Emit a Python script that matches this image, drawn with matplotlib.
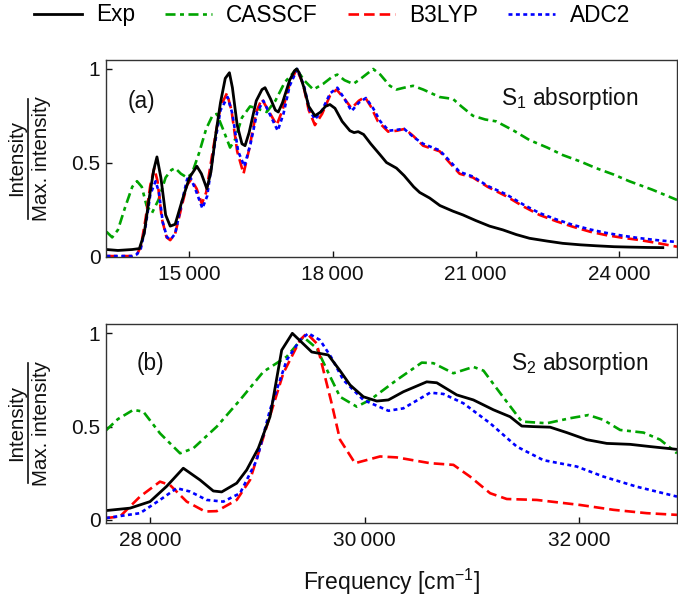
import matplotlib
matplotlib.use("Agg")
import matplotlib.pyplot as plt
from matplotlib.lines import Line2D

plt.rcParams['font.family'] = ['Liberation Sans', 'DejaVu Sans']
plt.rcParams['mathtext.fontset'] = 'custom'
plt.rcParams['mathtext.rm'] = 'Liberation Sans'
plt.rcParams['mathtext.it'] = 'Liberation Sans:italic'
plt.rcParams['mathtext.bf'] = 'Liberation Sans:bold'

# ---------------- data: panel (a) S1 absorption ----------------
a_exp_x = [13260, 13500, 13800, 13950, 14050, 14150, 14250, 14318, 14400, 14500, 14596, 14700,
           14850, 15000, 15155, 15250, 15364, 15450, 15550, 15650, 15750, 15837, 15900, 16000,
           16100, 16165, 16250, 16400, 16520, 16584, 16700, 16800, 16862, 16950, 17100, 17200,
           17247, 17300, 17400, 17500, 17630, 17750, 17850, 17944, 18050, 18200, 18363, 18450,
           18537, 18650, 18800, 19000, 19130, 19339, 19500, 19700, 19826, 20036, 20250, 20523,
           20732, 21000, 21291, 21569, 21850, 22128, 22500, 22825, 23200, 23523, 23900, 24220,
           24600, 24922]
a_exp_y = [0.035, 0.030, 0.035, 0.040, 0.12, 0.30, 0.46, 0.53, 0.42, 0.22, 0.16, 0.17,
           0.30, 0.42, 0.48, 0.44, 0.36, 0.45, 0.65, 0.82, 0.95, 0.98, 0.90, 0.70,
           0.60, 0.59, 0.66, 0.83, 0.89, 0.90, 0.84, 0.78, 0.77, 0.82, 0.94, 0.99,
           1.00, 0.98, 0.90, 0.80, 0.75, 0.77, 0.80, 0.81, 0.79, 0.72, 0.67, 0.66,
           0.665, 0.65, 0.60, 0.54, 0.50, 0.47, 0.43, 0.37, 0.34, 0.31, 0.27, 0.24,
           0.22, 0.19, 0.16, 0.14, 0.115, 0.095, 0.080, 0.068, 0.060, 0.055, 0.050, 0.048,
           0.046, 0.045]

a_cas_x = [13260, 13380, 13500, 13650, 13800, 13900, 14000, 14100, 14213, 14350, 14500, 14620,
           14701, 14820, 14946, 15050, 15200, 15350, 15480, 15573, 15700, 15851, 15950, 16100,
           16270, 16400, 16619, 16800, 17000, 17247, 17400, 17595, 17800, 18000, 18100, 18250,
           18433, 18600, 18851, 19000, 19200, 19339, 19500, 19687, 19900, 20245, 20523, 20700,
           20941, 21200, 21430, 21800, 22128, 22500, 22825, 23200, 23523, 23900, 24220, 24700,
           25126, 25220]
a_cas_y = [0.13, 0.10, 0.14, 0.26, 0.37, 0.40, 0.37, 0.27, 0.23, 0.30, 0.42, 0.46,
           0.47, 0.44, 0.42, 0.44, 0.55, 0.68, 0.75, 0.76, 0.68, 0.58, 0.62, 0.74,
           0.80, 0.79, 0.77, 0.83, 0.93, 1.00, 0.94, 0.89, 0.92, 0.96, 0.97, 0.94,
           0.92, 0.95, 1.00, 0.97, 0.91, 0.89, 0.90, 0.91, 0.89, 0.85, 0.84, 0.80,
           0.75, 0.73, 0.72, 0.67, 0.62, 0.58, 0.54, 0.505, 0.47, 0.435, 0.40, 0.355,
           0.31, 0.30]

a_b3_x = [13260, 13800, 13900, 13980, 14080, 14180, 14263, 14330, 14420, 14520, 14596, 14700,
          14850, 14950, 15036, 15150, 15259, 15350, 15500, 15650, 15785, 15880, 16000, 16133,
          16250, 16400, 16515, 16650, 16828, 16950, 17100, 17247, 17380, 17500, 17630, 17780,
          17950, 18084, 18250, 18398, 18550, 18677, 18800, 18950, 19165, 19350, 19514, 19700,
          19897, 20245, 20450, 20663, 20941, 21250, 21639, 22000, 22336, 22700, 23034, 23400,
          23732, 24100, 24428, 24800, 25220]
a_b3_y = [0.0, 0.0, 0.01, 0.05, 0.20, 0.38, 0.47, 0.40, 0.20, 0.10, 0.085, 0.12,
          0.28, 0.38, 0.41, 0.36, 0.28, 0.34, 0.58, 0.80, 0.87, 0.78, 0.56, 0.44,
          0.57, 0.77, 0.84, 0.78, 0.70, 0.78, 0.92, 1.00, 0.92, 0.78, 0.70, 0.76,
          0.86, 0.89, 0.84, 0.79, 0.83, 0.85, 0.80, 0.72, 0.665, 0.67, 0.68, 0.64,
          0.59, 0.56, 0.50, 0.44, 0.42, 0.37, 0.32, 0.265, 0.22, 0.185, 0.157, 0.13,
          0.112, 0.097, 0.086, 0.070, 0.050]

a_adc_x = [13260, 13800, 13900, 13980, 14080, 14180, 14290, 14360, 14440, 14530, 14610, 14700,
           14850, 14950, 15001, 15120, 15270, 15370, 15500, 15650, 15800, 15900, 16020, 16150,
           16280, 16420, 16550, 16680, 16850, 16970, 17100, 17260, 17400, 17520, 17630, 17780,
           17950, 18100, 18250, 18398, 18550, 18700, 18850, 19000, 19180, 19350, 19500, 19700,
           19900, 20245, 20450, 20663, 20941, 21250, 21639, 22000, 22336, 22700, 23034, 23400,
           23732, 24100, 24428, 24800, 25220]
a_adc_y = [0.0, 0.0, 0.01, 0.04, 0.16, 0.33, 0.40, 0.34, 0.18, 0.10, 0.09, 0.12,
           0.30, 0.41, 0.43, 0.36, 0.255, 0.32, 0.55, 0.78, 0.85, 0.76, 0.56, 0.48,
           0.60, 0.77, 0.83, 0.76, 0.67, 0.76, 0.91, 1.00, 0.91, 0.78, 0.73, 0.78,
           0.87, 0.90, 0.84, 0.775, 0.82, 0.845, 0.79, 0.72, 0.67, 0.675, 0.68, 0.635,
           0.60, 0.565, 0.51, 0.45, 0.425, 0.375, 0.33, 0.275, 0.23, 0.195, 0.167, 0.142,
           0.124, 0.108, 0.096, 0.085, 0.075]

# ---------------- data: panel (b) S2 absorption ----------------
b_exp_x = [27590, 27814, 28000, 28155, 28310, 28466, 28590, 28668, 28808, 28901, 29009, 29118,
           29227, 29326, 29507, 29661, 29770, 29864, 29988, 30113, 30221, 30361, 30578, 30672,
           30858, 31013, 31200, 31355, 31464, 31572, 31728, 31883, 32069, 32256, 32473, 32660,
           32910]
b_exp_y = [0.05, 0.063, 0.098, 0.18, 0.277, 0.214, 0.155, 0.15, 0.197, 0.268, 0.384, 0.553,
           0.91, 1.00, 0.90, 0.884, 0.80, 0.723, 0.66, 0.637, 0.643, 0.687, 0.74, 0.735,
           0.67, 0.643, 0.59, 0.553, 0.503, 0.50, 0.497, 0.468, 0.43, 0.41, 0.405, 0.393,
           0.378]

b_cas_x = [27590, 27700, 27845, 27938, 28093, 28280, 28404, 28622, 28839, 29056, 29274, 29429,
           29553, 29677, 29770, 29926, 30050, 30299, 30532, 30640, 30827, 31013, 31107, 31262,
           31464, 31697, 31914, 32085, 32225, 32380, 32598, 32753, 32910]
b_cas_y = [0.48, 0.54, 0.59, 0.58, 0.464, 0.357, 0.384, 0.50, 0.643, 0.794, 0.875, 0.98,
           0.92, 0.77, 0.66, 0.607, 0.643, 0.75, 0.843, 0.84, 0.786, 0.82, 0.80, 0.68,
           0.527, 0.518, 0.545, 0.562, 0.536, 0.482, 0.468, 0.43, 0.357]

b_b3_x = [27590, 27720, 27907, 28093, 28186, 28342, 28513, 28622, 28808, 28932, 29087, 29242,
          29398, 29460, 29553, 29690, 29770, 29910, 30143, 30299, 30610, 30827, 30982, 31169,
          31324, 31604, 32008, 32318, 32629, 32910]
b_b3_y = [0.01, 0.018, 0.125, 0.205, 0.187, 0.098, 0.045, 0.047, 0.107, 0.214, 0.50, 0.786,
          0.964, 1.00, 0.946, 0.63, 0.43, 0.304, 0.34, 0.335, 0.304, 0.295, 0.232, 0.143,
          0.112, 0.107, 0.080, 0.054, 0.036, 0.027]

b_adc_x = [27590, 27907, 28093, 28249, 28373, 28528, 28683, 28839, 28994, 29118, 29274, 29398,
           29475, 29584, 29690, 29801, 29988, 30221, 30361, 30610, 30734, 30920, 31169, 31417,
           31666, 31976, 32225, 32535, 32910]
b_adc_y = [0.01, 0.036, 0.107, 0.17, 0.152, 0.107, 0.098, 0.143, 0.32, 0.59, 0.857, 0.964,
           1.00, 0.964, 0.87, 0.75, 0.643, 0.585, 0.598, 0.682, 0.675, 0.625, 0.518, 0.393,
           0.32, 0.286, 0.232, 0.178, 0.125]

series_names = ["Exp", "CASSCF", "B3LYP", "ADC2"]
a_xticks = [15000, 18000, 21000, 24000]
b_xticks = [28000, 30000, 32000]
yticks = [0, 0.5, 1]
ytick_labels = ["0", "0.5", "1"]

# ---------------- styles ----------------
FS_TICK = 15
FS_TXT = 16.3
FS_YL = 14.8
TXT_C = '#111111'
styles = [
    dict(color='black', lw=2.0, ls='-'),
    dict(color='#00a400', lw=1.9, dashes=(3.8, 1.7, 1.5, 1.7)),
    dict(color='#ff0000', lw=1.9, dashes=(4.0, 1.9)),
    dict(color='#0000ff', lw=1.9, dashes=(1.5, 1.3)),
]

W, H = 678, 602
fig = plt.figure(figsize=(W / 100, H / 100), dpi=100)

def px_axes(left, top, right, bottom):
    return fig.add_axes([left / W, 1 - bottom / H, (right - left) / W, (bottom - top) / H])

ax1 = px_axes(106, 60, 677, 257)
ax2 = px_axes(106, 324, 677, 522.7)

def fmt(v):
    s = f"{v:d}"
    return s[:-3] + "\u2009" + s[-3:]

panels = [
    (ax1, [(a_exp_x, a_exp_y), (a_cas_x, a_cas_y), (a_b3_x, a_b3_y), (a_adc_x, a_adc_y)],
     (13250, 25220), (-0.005, 1.048), a_xticks, "(a)", r"S$_\mathregular{1}$ absorption",
     (0.037, 0.787), (0.932, 0.807)),
    (ax2, [(b_exp_x, b_exp_y), (b_cas_x, b_cas_y), (b_b3_x, b_b3_y), (b_adc_x, b_adc_y)],
     (27590, 32910), (-0.015, 1.05), b_xticks, "(b)", r"S$_\mathregular{2}$ absorption",
     (0.054, 0.80), (0.95, 0.80)),
]

handles = []
for ax, data, xl, yl, xt, lab, title, labpos, titlepos in panels:
    hs = []
    order = [1, 2, 3, 0]
    for i in order:
        x, y = data[i]
        h, = ax.plot(x, y, label=series_names[i], **styles[i])
        hs.append((i, h))
    handles = [h for i, h in sorted(hs)]
    ax.set_xlim(*xl)
    ax.set_ylim(*yl)
    ax.set_xticks(xt)
    ax.set_xticklabels([fmt(v) for v in xt])
    ax.set_yticks(yticks)
    ax.set_yticklabels(ytick_labels)
    ax.tick_params(direction='in', length=4, width=1, labelsize=FS_TICK, colors=TXT_C)
    ax.tick_params(axis='x', pad=6.0)
    ax.tick_params(axis='y', pad=4)
    for sp in ax.spines.values():
        sp.set_color('#333333')
        sp.set_linewidth(1.0)
    ax.text(labpos[0], labpos[1], lab, transform=ax.transAxes, fontsize=FS_TXT,
            ha='left', va='center', color=TXT_C)
    ax.text(titlepos[0], titlepos[1], title, transform=ax.transAxes, fontsize=FS_TXT,
            ha='right', va='center', color=TXT_C)

    # fraction-style y label
    bb = ax.get_position()
    yc = (bb.y0 + bb.y1) / 2
    fig.text(16.7 / W, yc, "Intensity", rotation=90, ha='center', va='center',
             fontsize=FS_YL, color=TXT_C)
    fig.text(41.7 / W, yc, "Max. intensity", rotation=90, ha='center', va='center',
             fontsize=FS_YL, color=TXT_C)
    fig.add_artist(Line2D([27.5 / W, 27.5 / W], [yc - 60 / H, yc + 60 / H],
                          color=TXT_C, lw=1.2))

fig.text(391.5 / W, 1 - 582 / H, r"Frequency [cm$^{\mathregular{-1}}$]", ha='center',
         va='center', fontsize=16.5, color=TXT_C)

fig.legend(handles=handles, labels=series_names, loc='center', ncol=4, frameon=False,
           bbox_to_anchor=(332 / W, 1 - 15 / H), fontsize=FS_TXT, handlelength=2.1,
           handletextpad=0.63, columnspacing=1.3, borderaxespad=0, borderpad=0)

fig.savefig("out.png", dpi=100)
